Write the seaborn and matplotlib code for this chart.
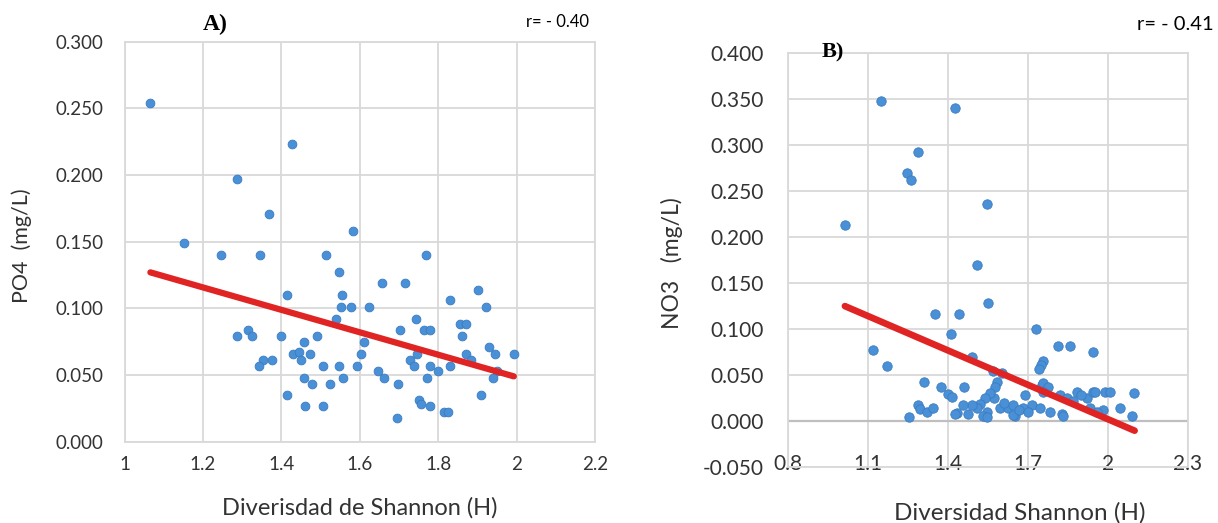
import matplotlib
matplotlib.use("Agg")
import matplotlib.pyplot as plt
import seaborn as sns
import pandas as pd

# ---------------- data ----------------
shannon_a = [1.066, 1.427, 1.287, 1.368, 1.151, 1.583, 1.247, 1.345, 1.514, 1.768,
             1.548, 1.656, 1.716, 1.902, 1.415, 1.555, 1.830, 1.553, 1.578, 1.624,
             1.921, 1.539, 1.744, 1.314, 1.324, 1.287, 1.398, 1.490, 1.703, 1.764,
             1.778, 1.855, 1.872, 1.862, 1.459, 1.612, 1.930, 1.430, 1.446, 1.473,
             1.603, 1.745, 1.872, 1.946, 1.993, 1.353, 1.375, 1.450, 1.729, 1.885,
             1.343, 1.507, 1.546, 1.592, 1.738, 1.780, 1.830, 1.646, 1.799, 1.951,
             1.459, 1.558, 1.662, 1.771, 1.939, 1.479, 1.525, 1.697, 1.415, 1.908,
             1.751, 1.757, 1.460, 1.507, 1.778, 1.814, 1.825, 1.695]
po4 = [0.254, 0.223, 0.197, 0.171, 0.149, 0.158, 0.140, 0.140, 0.140, 0.140,
       0.127, 0.119, 0.119, 0.114, 0.110, 0.110, 0.106, 0.101, 0.101, 0.101,
       0.101, 0.092, 0.092, 0.084, 0.079, 0.079, 0.079, 0.079, 0.084, 0.084,
       0.084, 0.088, 0.088, 0.079, 0.075, 0.075, 0.071, 0.066, 0.067, 0.066,
       0.066, 0.066, 0.066, 0.066, 0.066, 0.061, 0.061, 0.061, 0.061, 0.061,
       0.057, 0.057, 0.057, 0.057, 0.057, 0.057, 0.057, 0.053, 0.053, 0.053,
       0.048, 0.048, 0.048, 0.048, 0.048, 0.043, 0.043, 0.043, 0.035, 0.035,
       0.031, 0.028, 0.027, 0.027, 0.027, 0.022, 0.022, 0.018]
trend_a_x = [1.066, 1.993]
trend_a_y = [0.127, 0.049]

shannon_b = [1.149, 1.426, 1.289, 1.246, 1.260, 1.547, 1.014, 1.511, 1.550, 1.350,
             1.440, 1.413, 1.730, 1.811, 1.859, 1.944, 1.120, 1.173, 1.489, 1.758,
             1.750, 1.743, 1.602, 1.570, 1.583, 1.311, 1.374, 1.402, 1.414, 1.460,
             1.577, 1.571, 1.558, 1.539, 1.520, 1.508, 1.489, 1.477, 1.458, 1.433,
             1.427, 1.545, 1.533, 1.545, 1.254, 1.289, 1.296, 1.323, 1.343, 1.595,
             1.627, 1.645, 1.652, 1.645, 1.683, 1.689, 1.714, 1.751, 1.757, 1.776,
             1.758, 1.745, 1.783, 1.827, 1.833, 1.820, 1.845, 1.883, 1.920, 1.945,
             1.951, 1.933, 1.983, 1.989, 2.008, 2.045, 2.089, 2.098, 1.610, 1.665,
             1.700, 1.870, 1.900, 1.960]
no3 = [0.348, 0.340, 0.293, 0.270, 0.262, 0.236, 0.213, 0.170, 0.128, 0.116,
       0.116, 0.095, 0.100, 0.082, 0.082, 0.075, 0.077, 0.060, 0.070, 0.065,
       0.061, 0.057, 0.052, 0.054, 0.043, 0.043, 0.037, 0.029, 0.026, 0.037,
       0.037, 0.025, 0.030, 0.025, 0.019, 0.014, 0.017, 0.008, 0.017, 0.009,
       0.008, 0.010, 0.005, 0.004, 0.004, 0.017, 0.013, 0.010, 0.014, 0.014,
       0.014, 0.017, 0.005, 0.007, 0.014, 0.028, 0.017, 0.039, 0.041, 0.037,
       0.032, 0.014, 0.010, 0.008, 0.006, 0.028, 0.025, 0.032, 0.025, 0.032,
       0.032, 0.014, 0.012, 0.032, 0.032, 0.0145, 0.005, 0.030, 0.020, 0.012,
       0.010, 0.022, 0.028, 0.010]
trend_b_x = [1.014, 2.100]
trend_b_y = [0.125, -0.0105]

xticks_a = [1, 1.2, 1.4, 1.6, 1.8, 2, 2.2]
xticklabels_a = ["1", "1.2", "1.4", "1.6", "1.8", "2", "2.2"]
yticks_a = [0.0, 0.05, 0.10, 0.15, 0.20, 0.25, 0.30]
xticks_b = [0.8, 1.1, 1.4, 1.7, 2.0, 2.3]
xticklabels_b = ["0.8", "1.1", "1.4", "1.7", "2", "2.3"]
yticks_b = [-0.05, 0.0, 0.05, 0.10, 0.15, 0.20, 0.25, 0.30, 0.35, 0.40]

df_a = pd.DataFrame({"H": shannon_a, "PO4": po4})
df_b = pd.DataFrame({"H": shannon_b, "NO3": no3})
tr_a = pd.DataFrame({"H": trend_a_x, "y": trend_a_y})
tr_b = pd.DataFrame({"H": trend_b_x, "y": trend_b_y})

# ---------------- style ----------------
sns.set_theme(style="white")
plt.rcParams['font.family'] = ['Lato', 'DejaVu Sans']

W, H = 1218, 523
fig = plt.figure(figsize=(W / 100, H / 100), dpi=100)
fig.patch.set_facecolor("white")

def px_axes(l, r, t, b):
    return fig.add_axes([l / W, 1 - b / H, (r - l) / W, (b - t) / H])

axA = px_axes(124.5, 595, 41.7, 441.7)
axB = px_axes(787.8, 1188, 53.3, 467)

DOT = "#4A90D6"
EDGE = "#3A7CC0"
RED = "#E02424"
GRID = "#D9D9D9"
TXT = "#333333"

def style(ax, xt, xtl, yt, xlim, ylim, xpad, ypad, fs):
    ax.set_xlim(*xlim)
    ax.set_ylim(*ylim)
    ax.set_xticks(xt)
    ax.set_xticklabels(xtl)
    ax.set_yticks(yt)
    ax.set_yticklabels([f"{v:.3f}" for v in yt])
    ax.grid(True, color=GRID, lw=1.3)
    ax.set_axisbelow(True)
    for s in ax.spines.values():
        s.set_visible(True)
        s.set_color(GRID)
        s.set_linewidth(1.3)
    ax.tick_params(axis="both", length=0, labelsize=fs, labelcolor=TXT)
    ax.tick_params(axis="x", pad=xpad)
    ax.tick_params(axis="y", pad=ypad)
    ax.set_xlabel("")
    ax.set_ylabel("")

# Panel A
sns.scatterplot(data=df_a, x="H", y="PO4", ax=axA, s=40, color=DOT,
                edgecolor=EDGE, linewidth=0.6, zorder=3)
sns.lineplot(data=tr_a, x="H", y="y", ax=axA, color=RED, lw=4.5,
             solid_capstyle="round", zorder=4)
style(axA, xticks_a, xticklabels_a, yticks_a, (1, 2.2), (0, 0.3), 10, 15, 13.5)

# Panel B
sns.scatterplot(data=df_b, x="H", y="NO3", ax=axB, s=46, color=DOT,
                edgecolor=EDGE, linewidth=0.6, zorder=3)
sns.lineplot(data=tr_b, x="H", y="y", ax=axB, color=RED, lw=4.8,
             solid_capstyle="round", zorder=4)
style(axB, xticks_b, xticklabels_b, yticks_b, (0.8, 2.3), (-0.05, 0.4), -9, 17, 15)
axB.axhline(0, color="#BFBFBF", lw=1.6, zorder=1)

# Texts
def ftext(x, y, s, **kw):
    fig.text(x / W, 1 - y / H, s, ha="center", va="center", **kw)

ftext(215, 24, "A)", family="Liberation Serif", weight="bold", size=17, color="black")
ftext(833, 52, "B)", family="Liberation Serif", weight="bold", size=16, color="black")
ftext(558, 22, "r= - 0.40", size=12, color="black")
ftext(1175, 25, "r= - 0.41", size=14.5, color="black")
ftext(22, 246, "PO4  (mg/L)", size=15.5, color=TXT, rotation=90)
ftext(672, 263, "NO3   (mg/L)", size=16.5, color=TXT, rotation=90)
ftext(360, 508, "Diverisdad de Shannon (H)", size=17, color=TXT)
ftext(1020, 513, "Diversidad Shannon (H)", size=17.5, color=TXT)

fig.savefig("out.png", dpi=100, facecolor="white")
